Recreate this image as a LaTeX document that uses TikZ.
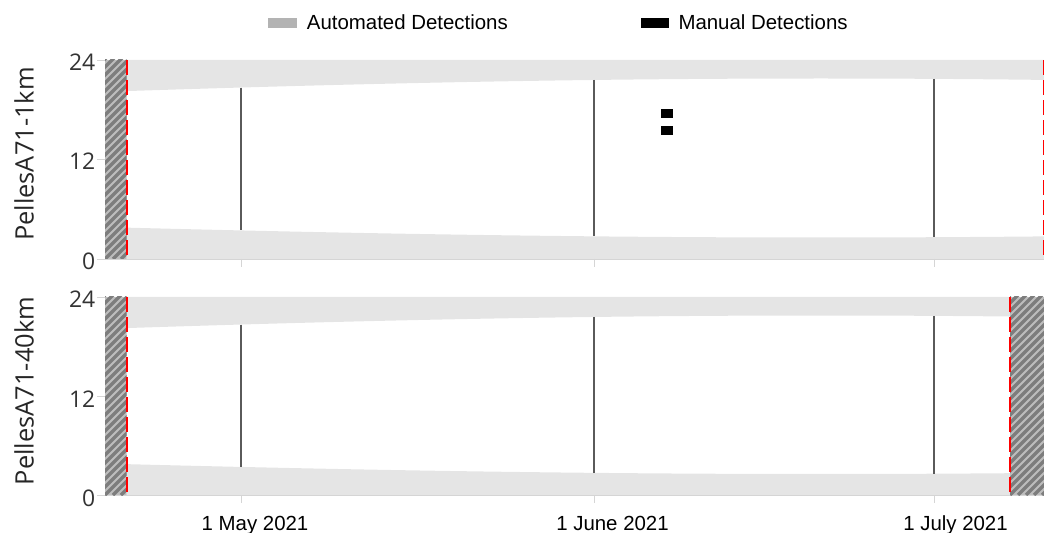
\documentclass[tikz,border=0pt]{standalone}
\usepackage{fontspec}
\setmainfont{Liberation Sans}
\newfontfamily\axisfont{Open Sans}
\definecolor{nightgray}{HTML}{E5E5E5}
\definecolor{autogray}{HTML}{B3B3B3}
\definecolor{gridgray}{HTML}{5A5A5A}
\definecolor{axisgray}{HTML}{D5D5D5}
\definecolor{hatchlight}{HTML}{BDBDBD}
\definecolor{hatchdark}{HTML}{7D7D7D}
% hours of darkness move with the season (solstice near x=821)
\newcommand\duskshift[1]{(1-cos(((#1)-821)*0.0869))}
% striped block for days outside the deployment
\newcommand\hatchblock[4]{%
  \begin{scope}
    \clip (#1,#3) rectangle (#2,#4);
    \fill[hatchlight] (#1,#3) rectangle (#2,#4);
    \foreach \k in {-216,-208,...,48} \draw[hatchdark,line width=3.2bp] ({#1+\k},#4) -- ++(220,-220);
  \end{scope}}
\begin{document}
\begin{tikzpicture}[x=1bp,y=-1bp,line join=bevel,
  nightband/.style={fill=nightgray,draw=none},
  gridline/.style={draw=gridgray,line width=1.1bp},
  axisline/.style={draw=axisgray,line width=0.9bp},
  limitline/.style={draw=red,line width=2bp,dash pattern=on 15bp off 5bp},
  ticklabel/.style={font=\axisfont\fontsize{23}{23}\selectfont,anchor=base east,inner sep=0pt,text=black!80},
  datelabel/.style={font=\fontsize{20.5}{20.5}\selectfont,anchor=base,inner sep=0pt},
  paneltitle/.style={font=\axisfont\fontsize{25.5}{25.5}\selectfont,anchor=base,rotate=90,inner sep=0pt,text=black!85},
  keylabel/.style={font=\fontsize{20.5}{20.5}\selectfont,anchor=base west,inner sep=0pt},
  manualbox/.style={fill=black,draw=none,minimum width=12.6bp,minimum height=9.3bp,inner sep=0pt},
]
\useasboundingbox (0,0) rectangle (1044,533);
%% legend
\node (auto_key) [fill=autogray,minimum width=28.4bp,minimum height=10bp,inner sep=0pt] at (282.5,23.3) {};
\node (auto_label) [keylabel] at (306.7,29.3) {Automated Detections};
\node (manual_key) [fill=black,minimum width=28.4bp,minimum height=9.4bp,inner sep=0pt] at (654.8,23) {};
\node (manual_label) [keylabel] at (678.3,29.3) {Manual Detections};
%% panel 1
\fill[nightband] (127,60) -- (1044,60) -- plot[domain=1044:127,samples=60] (\x,{78.5+24.9*\duskshift{\x}}) -- cycle;
\fill[nightband] (127,259) -- plot[domain=127:1044,samples=60] (\x,{237.5-19.5*\duskshift{\x}}) -- (1044,259) -- cycle;
\foreach \tx in {241,594,934} {
  \draw[gridline] (\tx,{78.5+24.9*\duskshift{\tx}}) -- (\tx,{237.5-19.5*\duskshift{\tx}});
  \draw[axisline] (\tx,259) -- (\tx,267);
}
\draw[axisline] (105,259) -- (1044,259);
\foreach \ty/\tl in {60/24,159.5/12,259/0} {
  \draw[axisline] (97,\ty) -- (105,\ty);
  \node (tick_a\tl) [ticklabel] at (95.5,\ty+10.5) {\tl};
}
\hatchblock{105}{126.5}{60}{259}
\draw[limitline] (126.5,60) -- (126.5,259);
\draw[limitline] (1044,60) -- (1044,259);
\node (manual_a) [manualbox] at (667,113.7) {};
\node (manual_b) [manualbox] at (667,130.3) {};
\node (title_a) [paneltitle] at (33.5,154) {PellesA71-1km};
%% panel 2
\fill[nightband] (127,297) -- (1010,297) -- plot[domain=1010:127,samples=60] (\x,{315.5+24.9*\duskshift{\x}}) -- cycle;
\fill[nightband] (127,495) -- plot[domain=127:1010,samples=60] (\x,{474-19.5*\duskshift{\x}}) -- (1010,495) -- cycle;
\foreach \tx in {241,594,934} {
  \draw[gridline] (\tx,{315.5+24.9*\duskshift{\tx}}) -- (\tx,{474-19.5*\duskshift{\tx}});
  \draw[axisline] (\tx,495) -- (\tx,503);
}
\draw[axisline] (105,495) -- (1044,495);
\foreach \ty/\tl in {297/24,396/12,495/0} {
  \draw[axisline] (97,\ty) -- (105,\ty);
  \node (tick_b\tl) [ticklabel] at (95.5,\ty+11) {\tl};
}
\hatchblock{105}{126.5}{297}{495}
\hatchblock{1010}{1044}{297}{495}
\draw[limitline] (126.5,297) -- (126.5,495);
\draw[limitline] (1010,297) -- (1010,495);
\node (title_b) [paneltitle] at (33.5,391) {PellesA71-40km};
%% dates
\node (date_may) [datelabel] at (255,530.7) {1 May 2021};
\node (date_jun) [datelabel] at (612.5,530.7) {1 June 2021};
\node (date_jul) [datelabel] at (955.5,530.7) {1 July 2021};
%
\end{tikzpicture}
\end{document}
